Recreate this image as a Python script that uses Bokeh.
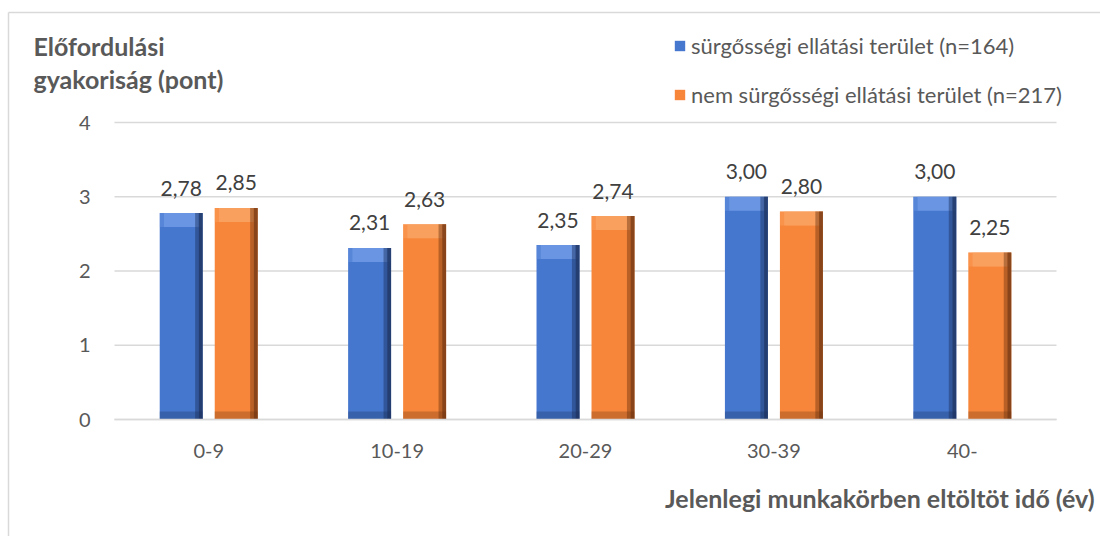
from bokeh.plotting import figure
from bokeh.models import ColumnDataSource, Range1d, Legend, LegendItem, Label
from bokeh.core.properties import value
from bokeh.embed import file_html
from bokeh.resources import INLINE

categories = ["0-9", "10-19", "20-29", "30-39", "40-"]
surgossegi = [2.78, 2.31, 2.35, 3.00, 3.00]
nem_surgossegi = [2.85, 2.63, 2.74, 2.80, 2.25]
y_ticks = [0, 1, 2, 3, 4]
series_names = ["sürgősségi ellátási terület (n=164)", "nem sürgősségi ellátási terület (n=217)"]
y_title = "Előfordulási\ngyakoriság (pont)"
x_title = "Jelenlegi munkakörben eltöltöt idő (év)"

FONT = "Lato"
BLUE = "#4677CF"
ORANGE = "#F7863A"
BLUE_DARK = "#1B2F58"
ORANGE_DARK = "#6A3210"
BLUE_LIGHT = "#79A3EC"
ORANGE_LIGHT = "#FCAC70"
GRID = "#D9D9D9"
TXT = "#595959"

W_PX, H_PX = 1100, 536
# layout: plot area pixels
X0_PX, X1_PX = 114.0, 1056.0       # plot-area left/right
Y0_PX, Y4_PX = 419.0, 122.0        # pixel of value 0 and value 4
n = len(categories)
band = (X1_PX - X0_PX) / n
ppu = (Y0_PX - Y4_PX) / max(y_ticks)

def px_x(px):
    return (px - X0_PX) / band - 0.5

def px_y(py):
    return (Y0_PX - py) / ppu

def fmt(v):
    return f"{v:.2f}".replace(".", ",")

idx = list(range(n))
W = 0.228
OFF = 0.146

p = figure(x_range=Range1d(px_x(0), px_x(W_PX)), y_range=Range1d(px_y(H_PX), px_y(0)),
           width=W_PX, height=H_PX, output_backend="svg", toolbar_location=None,
           x_axis_type=None, y_axis_type=None, min_border=0)
p.outline_line_color = None
p.background_fill_color = "white"
p.border_fill_color = "white"
p.grid.visible = False

# chart-area border (left and top)
p.segment(x0=[px_x(8)], y0=[px_y(12)], x1=[px_x(W_PX + 5)], y1=[px_y(12)], line_color=GRID, line_width=1.5)
p.segment(x0=[px_x(8)], y0=[px_y(12)], x1=[px_x(8)], y1=[px_y(H_PX + 5)], line_color=GRID, line_width=1.5)

# horizontal gridlines
p.segment(x0=[-0.5] * len(y_ticks), x1=[n - 0.5] * len(y_ticks), y0=y_ticks, y1=y_ticks,
          line_color=GRID, line_width=1.5)

renderers = []
for vals, off, col, dark, light in [(surgossegi, -OFF, BLUE, BLUE_DARK, BLUE_LIGHT),
                                    (nem_surgossegi, OFF, ORANGE, ORANGE_DARK, ORANGE_LIGHT)]:
    xs = [i + off for i in idx]
    src = ColumnDataSource(dict(x=xs, top=vals, lab=[fmt(v) for v in vals],
                                band=[v - 14 / ppu for v in vals]))
    r = p.vbar(x="x", top="top", bottom=0, width=W, source=src, fill_color=col, line_color=None)
    renderers.append(r)
    # bevel: light top
    p.vbar(x="x", top="top", bottom="band", width=W * 0.8, source=src,
           fill_color=light, line_color=None, fill_alpha=0.55)
    p.vbar(x="x", top="top", bottom="band", width=W, source=src,
           fill_color=light, line_color=None, fill_alpha=0.35)
    # bevel: dark right edge
    p.vbar(x=[x + W / 2 - 0.02 for x in xs], top=vals, bottom=0, width=0.04,
           fill_color=dark, line_color=None, fill_alpha=0.45)
    p.vbar(x=[x + W / 2 - 0.01 for x in xs], top=vals, bottom=0, width=0.02,
           fill_color=dark, line_color=None, fill_alpha=0.6)
    # bevel: dark bottom
    p.vbar(x=xs, top=8 / ppu, bottom=0, width=W,
           fill_color=dark, line_color=None, fill_alpha=0.3)
    p.text(x="x", y="top", text="lab", source=src,
           text_font=value(FONT), text_font_size="21px", text_color="#404040",
           text_align="center", text_baseline="alphabetic", y_offset=-25)

# x axis line
p.segment(x0=[-0.5], x1=[n - 0.5], y0=[0], y1=[0], line_color=GRID, line_width=1.5)

# tick labels
p.text(x=[-0.5] * len(y_ticks), y=y_ticks, text=[str(t) for t in y_ticks],
       x_offset=-24, text_font=value(FONT), text_font_size="20px", text_color=TXT,
       text_align="right", text_baseline="middle")
p.text(x=idx, y=[0] * n, text=categories, y_offset=31,
       text_font=value(FONT), text_font_size="20px", text_color=TXT,
       text_align="center", text_baseline="middle")

legend = Legend(items=[LegendItem(label=series_names[0], renderers=[renderers[0]]),
                       LegendItem(label=series_names[1], renderers=[renderers[1]])],
                location=(673, H_PX - 38 - 70), orientation="vertical",
                glyph_width=13, glyph_height=13, label_standoff=5,
                label_text_font=FONT, label_text_font_size="22px", label_text_color=TXT,
                label_height=24, spacing=22, padding=0, margin=0,
                border_line_color=None, background_fill_alpha=0)
p.add_layout(legend, "center")

lines = y_title.split("\n")
for k, line in enumerate(lines):
    p.add_layout(Label(x=33, y=H_PX - 45 - 33 * k, x_units="screen", y_units="screen", text=line,
                       text_font=FONT, text_font_size="25px", text_font_style="bold",
                       text_color=TXT, text_baseline="alphabetic"))
p.add_layout(Label(x=1094, y=H_PX - 497, x_units="screen", y_units="screen", text=x_title,
                   text_font=FONT, text_font_size="25px", text_font_style="bold",
                   text_color=TXT, text_align="right", text_baseline="alphabetic"))

open("out.html", "w").write(file_html(p, INLINE))
